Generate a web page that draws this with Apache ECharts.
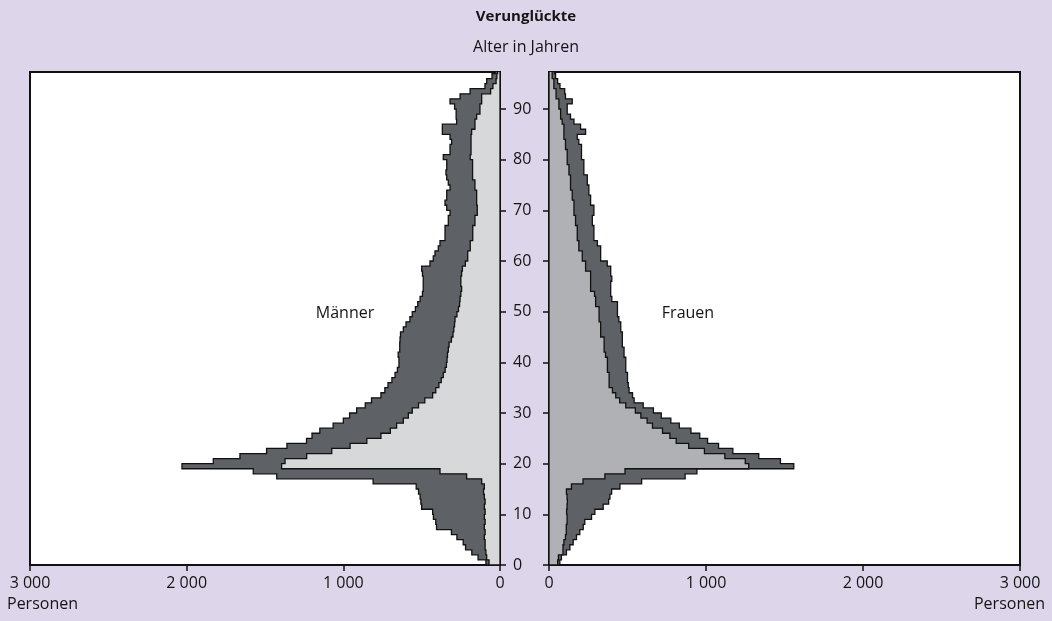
<!DOCTYPE html>
<html><head><meta charset="utf-8">
<script src="https://cdn.jsdelivr.net/npm/echarts@6/dist/echarts.min.js"></script>
<style>html,body{margin:0;padding:0;background:#ddd6ea;}#c{width:1052px;height:621px;}</style>
</head><body><div id="c"></div>
<script>
// Age in years (each value covers one year of age)
const ages = [0,1,2,3,4,5,6,7,8,9,10,11,12,13,14,15,16,17,18,19,20,21,22,23,24,25,26,27,28,29,30,31,32,33,34,35,36,37,38,39,40,41,42,43,44,45,46,47,48,49,50,51,52,53,54,55,56,57,58,59,60,61,62,63,64,65,66,67,68,69,70,71,72,73,74,75,76,77,78,79,80,81,82,83,84,85,86,87,88,89,90,91,92,93,94,95,96,97];

// Männer: outer outline (dark area) and inner (light area)
const menTotal = [90,140,180,220,235,275,310,405,410,425,430,500,505,510,520,535,810,1425,1575,2030,1830,1660,1490,1360,1235,1200,1150,1065,1000,960,915,860,820,760,735,715,690,670,655,645,645,650,640,640,638,635,617,600,575,560,540,525,510,495,490,490,490,495,500,447,426,415,394,383,351,351,351,330,330,319,340,351,340,340,319,330,340,345,340,340,362,319,319,309,319,368,368,277,280,280,290,319,255,191,96,85,51,30];
const menInner = [70,85,90,95,95,100,95,100,95,100,95,100,95,100,105,100,117,213,383,1394,1372,1234,1074,957,850,760,700,660,617,585,560,520,480,430,410,390,375,362,350,342,338,335,330,325,310,300,295,290,287,275,265,258,255,250,245,250,250,245,240,221,206,206,190,190,174,174,174,160,160,145,145,149,149,149,160,160,175,175,175,175,190,185,185,185,185,181,160,160,149,128,128,117,117,60,45,25,20,15];

// Frauen: outer outline (dark area) and inner (light area)
const womenTotal = [69,79,111,133,154,175,196,218,228,271,292,345,380,388,399,452,590,867,942,1559,1474,1336,1171,1080,1010,960,904,830,776,715,665,600,542,532,510,505,500,500,489,489,489,478,478,467,467,467,457,457,445,436,436,436,400,393,393,393,400,393,393,371,329,329,329,308,286,286,286,276,276,286,286,265,265,254,254,244,244,222,222,222,207,207,207,190,180,233,201,159,137,116,116,148,105,100,70,55,42,35];
const womenInner = [55,60,89,89,95,105,110,110,115,115,112,115,117,115,111,143,217,356,484,1272,1250,1120,990,890,810,770,723,659,625,585,550,489,450,425,404,383,383,383,372,372,372,360,351,351,351,329,329,329,319,319,319,297,297,290,265,265,265,265,233,233,212,212,190,190,180,180,180,169,169,159,159,159,148,148,137,137,137,127,127,116,116,116,105,105,95,95,95,84,74,74,63,63,45,45,31,31,20,20];

const xTicks = [0,1000,2000,3000];
const yTicks = [0,10,20,30,40,50,60,70,80,90];

const FONT = '"Open Sans", "Noto Sans", sans-serif';
const FS = 16;
const TXT = '#141414';
const DARK = '#5e6165';
const LIGHT_M = '#d7d8da';
const LIGHT_F = '#afb1b4';

function stepArea(fill) {
  return function (params, api) {
    if (params.dataIndexInside !== 0) return null;
    const n = params.dataInsideLength;
    const pts = [api.coord([0, api.value(1, 0)])];
    for (let i = 0; i < n; i++) {
      const v = api.value(0, i), a = api.value(1, i);
      pts.push(api.coord([v, a]), api.coord([v, a + 1]));
    }
    pts.push(api.coord([0, api.value(1, n - 1) + 1]));
    return { type: 'polygon', shape: { points: pts },
      style: { fill: fill, stroke: '#111', lineWidth: 1.3, lineJoin: 'miter' } };
  };
}
function seriesData(vals) { return ages.map((a, i) => [vals[i], a]); }
function fmtX(v) { return v === 0 ? '0' : (v / 1000) + ' 000'; }

const xAxisBase = (grid, inverse) => ({
  gridIndex: grid, type: 'value', min: 0, max: 3000, interval: 1000, inverse: inverse,
  axisLine: { show: true, lineStyle: { color: '#111', width: 2 } },
  axisTick: { show: true, length: 6, customValues: xTicks, lineStyle: { color: '#111', width: 1.5 } },
  axisLabel: { formatter: fmtX, customValues: xTicks, color: TXT, fontSize: FS, fontFamily: FONT, margin: 10 },
  splitLine: { show: false }
});
const yAxisBase = (grid, pos, labels) => ({
  gridIndex: grid, type: 'value', min: 0, max: 97.3, position: pos,
  axisLine: { show: true, onZero: false, lineStyle: { color: '#111', width: 2 } },
  axisTick: { show: true, length: 6, customValues: yTicks, lineStyle: { color: '#111', width: 1.5 } },
  axisLabel: { show: labels, customValues: yTicks, color: TXT, fontSize: FS, fontFamily: FONT, margin: 13 },
  splitLine: { show: false }
});

const chart = echarts.init(document.getElementById('c'), null, { renderer: 'canvas' });
chart.setOption({
  backgroundColor: '#ddd6ea',
  animation: false,
  grid: [
    { left: 30, top: 72, width: 470, height: 493, show: true, backgroundColor: '#fff', borderColor: '#111', borderWidth: 2 },
    { left: 549, top: 72, width: 471, height: 493, show: true, backgroundColor: '#fff', borderColor: '#111', borderWidth: 2 }
  ],
  xAxis: [xAxisBase(0, true), xAxisBase(1, false)],
  yAxis: [yAxisBase(0, 'right', true), yAxisBase(1, 'left', false)],
  series: [
    { type: 'custom', name: 'Männer gesamt', xAxisIndex: 0, yAxisIndex: 0, clip: true, encode: { x: 0, y: 1 }, data: seriesData(menTotal), renderItem: stepArea(DARK) },
    { type: 'custom', name: 'Männer', xAxisIndex: 0, yAxisIndex: 0, clip: true, encode: { x: 0, y: 1 }, data: seriesData(menInner), renderItem: stepArea(LIGHT_M) },
    { type: 'custom', name: 'Frauen gesamt', xAxisIndex: 1, yAxisIndex: 1, clip: true, encode: { x: 0, y: 1 }, data: seriesData(womenTotal), renderItem: stepArea(DARK) },
    { type: 'custom', name: 'Frauen', xAxisIndex: 1, yAxisIndex: 1, clip: true, encode: { x: 0, y: 1 }, data: seriesData(womenInner), renderItem: stepArea(LIGHT_F) }
  ],
  graphic: [
    { type: 'text', x: 526, y: 17, style: { text: 'Verunglückte', font: 'bold ' + (FS - 1) + 'px ' + FONT, fill: TXT, align: 'center', verticalAlign: 'middle' } },
    { type: 'text', x: 526, y: 47, style: { text: 'Alter in Jahren', font: FS + 'px ' + FONT, fill: TXT, align: 'center', verticalAlign: 'middle' } },
    { type: 'text', x: 345, y: 313, style: { text: 'Männer', font: FS + 'px ' + FONT, fill: TXT, align: 'center', verticalAlign: 'middle' } },
    { type: 'text', x: 688, y: 313, style: { text: 'Frauen', font: FS + 'px ' + FONT, fill: TXT, align: 'center', verticalAlign: 'middle' } },
    { type: 'text', x: 7, y: 604, style: { text: 'Personen', font: FS + 'px ' + FONT, fill: TXT, align: 'left', verticalAlign: 'middle' } },
    { type: 'text', x: 1045, y: 604, style: { text: 'Personen', font: FS + 'px ' + FONT, fill: TXT, align: 'right', verticalAlign: 'middle' } }
  ]
});
</script></body></html>
